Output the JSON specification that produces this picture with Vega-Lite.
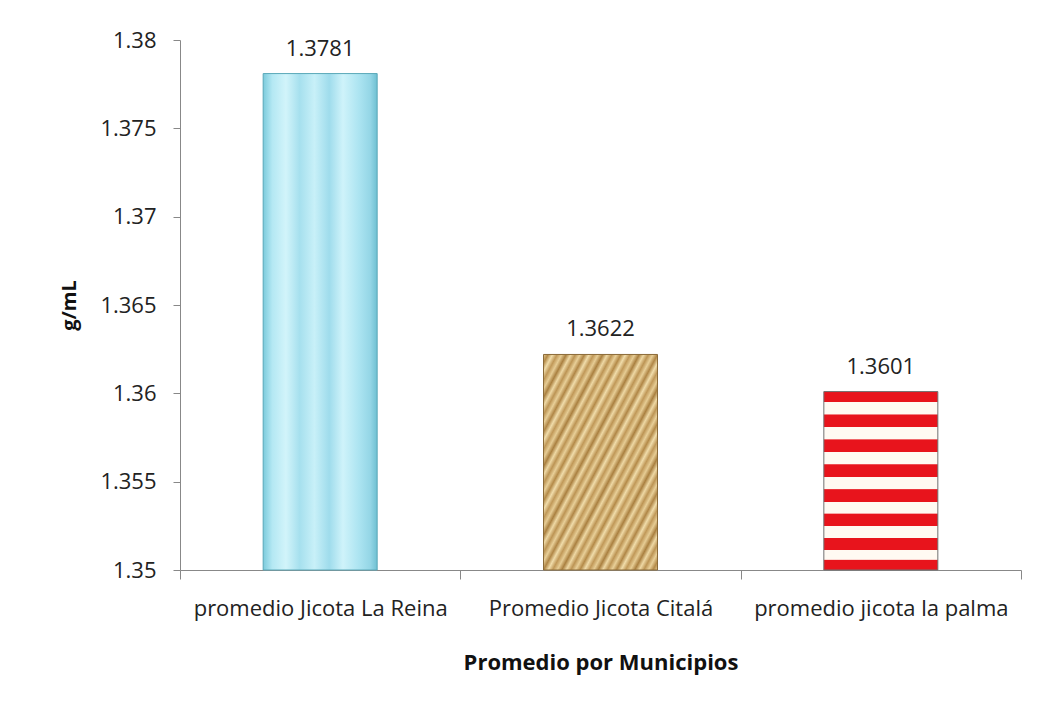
{
  "$schema": "https://vega.github.io/schema/vega-lite/v6.json",
  "width": 841,
  "height": 530,
  "autosize": {"type": "none"},
  "padding": {"left": 180, "top": 40, "right": 20, "bottom": 137},
  "background": "white",
  "config": {
    "view": {"stroke": null},
    "font": "Open Sans",
    "axis": {"domainColor": "#888888", "tickColor": "#888888", "labelColor": "#222222", "titleColor": "#111111", "grid": false}
  },
  "data": {
    "values": [
      {"municipio": "promedio Jicota La Reina", "densidad": 1.3781},
      {"municipio": "Promedio Jicota Citalá", "densidad": 1.3622},
      {"municipio": "promedio jicota la palma", "densidad": 1.3601}
    ]
  },
  "encoding": {
    "x": {
      "field": "municipio",
      "type": "nominal",
      "sort": null,
      "scale": {"paddingInner": 0, "paddingOuter": 0},
      "axis": {
        "title": "Promedio por Municipios",
        "titleFontSize": 22,
        "titleFontWeight": "bold",
        "titlePadding": 33,
        "labelAngle": 0,
        "labelFontSize": 22,
        "labelLimit": 0,
        "labelPadding": 19,
        "tickSize": 9,
        "tickBand": "extent"
      }
    },
    "y": {
      "field": "densidad",
      "type": "quantitative",
      "scale": {"domain": [1.35, 1.38], "zero": false, "nice": false},
      "axis": {
        "title": "g/mL",
        "titleFontSize": 20,
        "titleFontWeight": "bold",
        "titlePadding": 20,
        "values": [1.35, 1.355, 1.36, 1.365, 1.37, 1.375, 1.38],
        "labelExpr": "format(datum.value, '.4~f')",
        "labelFontSize": 22,
        "labelPadding": 17,
        "tickSize": 7
      }
    }
  },
  "layer": [
    {
      "transform": [{"filter": "datum.municipio === 'promedio Jicota La Reina'"}],
      "mark": {
        "type": "bar",
        "size": 114,
        "stroke": "#5aa8b8",
        "strokeWidth": 1,
        "color": {
          "gradient": "linear",
          "x1": 0, "y1": 0, "x2": 1, "y2": 0,
          "stops": [
            {"offset": 0, "color": "#7ccbdc"},
            {"offset": 0.08, "color": "#b4e8f3"},
            {"offset": 0.2, "color": "#d2f4fa"},
            {"offset": 0.32, "color": "#a6e0ee"},
            {"offset": 0.45, "color": "#c8f0f8"},
            {"offset": 0.58, "color": "#9fdcec"},
            {"offset": 0.7, "color": "#cff3fa"},
            {"offset": 0.84, "color": "#ace4f1"},
            {"offset": 0.94, "color": "#94d6e6"},
            {"offset": 1, "color": "#6fc0d2"}
          ]
        }
      },
      "encoding": {"y2": {"datum": 1.35}}
    },
    {
      "transform": [{"filter": "datum.municipio === 'Promedio Jicota Citalá'"}],
      "mark": {
        "type": "bar",
        "size": 114,
        "stroke": "#8a6a38",
        "strokeWidth": 1,
        "color": {
          "gradient": "linear",
          "x1": 0, "y1": 0, "x2": 1, "y2": 1,
          "stops": [
            {"offset": 0, "color": "#e8cf98"}, {"offset": 0.02, "color": "#b48a48"},
            {"offset": 0.04, "color": "#f0dcaa"}, {"offset": 0.06, "color": "#c09858"},
            {"offset": 0.08, "color": "#e6cc94"}, {"offset": 0.1, "color": "#aa8040"},
            {"offset": 0.12, "color": "#eed8a4"}, {"offset": 0.14, "color": "#bc9454"},
            {"offset": 0.16, "color": "#e8cf98"}, {"offset": 0.18, "color": "#b08646"},
            {"offset": 0.2, "color": "#f0dcaa"}, {"offset": 0.22, "color": "#c09858"},
            {"offset": 0.24, "color": "#e6cc94"}, {"offset": 0.26, "color": "#aa8040"},
            {"offset": 0.28, "color": "#eed8a4"}, {"offset": 0.3, "color": "#bc9454"},
            {"offset": 0.32, "color": "#e8cf98"}, {"offset": 0.34, "color": "#b48a48"},
            {"offset": 0.36, "color": "#f0dcaa"}, {"offset": 0.38, "color": "#c09858"},
            {"offset": 0.4, "color": "#e6cc94"}, {"offset": 0.42, "color": "#aa8040"},
            {"offset": 0.44, "color": "#eed8a4"}, {"offset": 0.46, "color": "#bc9454"},
            {"offset": 0.48, "color": "#e8cf98"}, {"offset": 0.5, "color": "#b08646"},
            {"offset": 0.52, "color": "#f0dcaa"}, {"offset": 0.54, "color": "#c09858"},
            {"offset": 0.56, "color": "#e6cc94"}, {"offset": 0.58, "color": "#aa8040"},
            {"offset": 0.6, "color": "#eed8a4"}, {"offset": 0.62, "color": "#bc9454"},
            {"offset": 0.64, "color": "#e8cf98"}, {"offset": 0.66, "color": "#b48a48"},
            {"offset": 0.68, "color": "#f0dcaa"}, {"offset": 0.7, "color": "#c09858"},
            {"offset": 0.72, "color": "#e6cc94"}, {"offset": 0.74, "color": "#aa8040"},
            {"offset": 0.76, "color": "#eed8a4"}, {"offset": 0.78, "color": "#bc9454"},
            {"offset": 0.8, "color": "#e8cf98"}, {"offset": 0.82, "color": "#b08646"},
            {"offset": 0.84, "color": "#f0dcaa"}, {"offset": 0.86, "color": "#c09858"},
            {"offset": 0.88, "color": "#e6cc94"}, {"offset": 0.9, "color": "#aa8040"},
            {"offset": 0.92, "color": "#eed8a4"}, {"offset": 0.94, "color": "#bc9454"},
            {"offset": 0.96, "color": "#e8cf98"}, {"offset": 0.98, "color": "#b48a48"},
            {"offset": 1, "color": "#e6cc94"}
          ]
        }
      },
      "encoding": {"y2": {"datum": 1.35}}
    },
    {
      "transform": [{"filter": "datum.municipio === 'promedio jicota la palma'"}],
      "mark": {
        "type": "bar",
        "size": 114,
        "stroke": "#707070",
        "strokeWidth": 1,
        "color": {
          "gradient": "linear",
          "x1": 0, "y1": 0, "x2": 0, "y2": 1,
          "stops": [
            {"offset": 0, "color": "#e8141c"}, {"offset": 0.058, "color": "#e8141c"},
            {"offset": 0.059, "color": "#fffaf2"}, {"offset": 0.128, "color": "#fffaf2"},
            {"offset": 0.129, "color": "#e8141c"}, {"offset": 0.198, "color": "#e8141c"},
            {"offset": 0.199, "color": "#fffaf2"}, {"offset": 0.268, "color": "#fffaf2"},
            {"offset": 0.269, "color": "#e8141c"}, {"offset": 0.338, "color": "#e8141c"},
            {"offset": 0.339, "color": "#fffaf2"}, {"offset": 0.408, "color": "#fffaf2"},
            {"offset": 0.409, "color": "#e8141c"}, {"offset": 0.478, "color": "#e8141c"},
            {"offset": 0.479, "color": "#fffaf2"}, {"offset": 0.548, "color": "#fffaf2"},
            {"offset": 0.549, "color": "#e8141c"}, {"offset": 0.618, "color": "#e8141c"},
            {"offset": 0.619, "color": "#fffaf2"}, {"offset": 0.683, "color": "#fffaf2"},
            {"offset": 0.684, "color": "#e8141c"}, {"offset": 0.753, "color": "#e8141c"},
            {"offset": 0.754, "color": "#fffaf2"}, {"offset": 0.818, "color": "#fffaf2"},
            {"offset": 0.819, "color": "#e8141c"}, {"offset": 0.887, "color": "#e8141c"},
            {"offset": 0.888, "color": "#fffaf2"}, {"offset": 0.941, "color": "#fffaf2"},
            {"offset": 0.942, "color": "#e8141c"}, {"offset": 1, "color": "#e8141c"}
          ]
        }
      },
      "encoding": {"y2": {"datum": 1.35}}
    },
    {
      "mark": {"type": "text", "baseline": "bottom", "dy": -13, "fontSize": 22, "color": "#222222"},
      "encoding": {
        "text": {"field": "densidad", "type": "quantitative", "format": ".4f"}
      }
    }
  ]
}
